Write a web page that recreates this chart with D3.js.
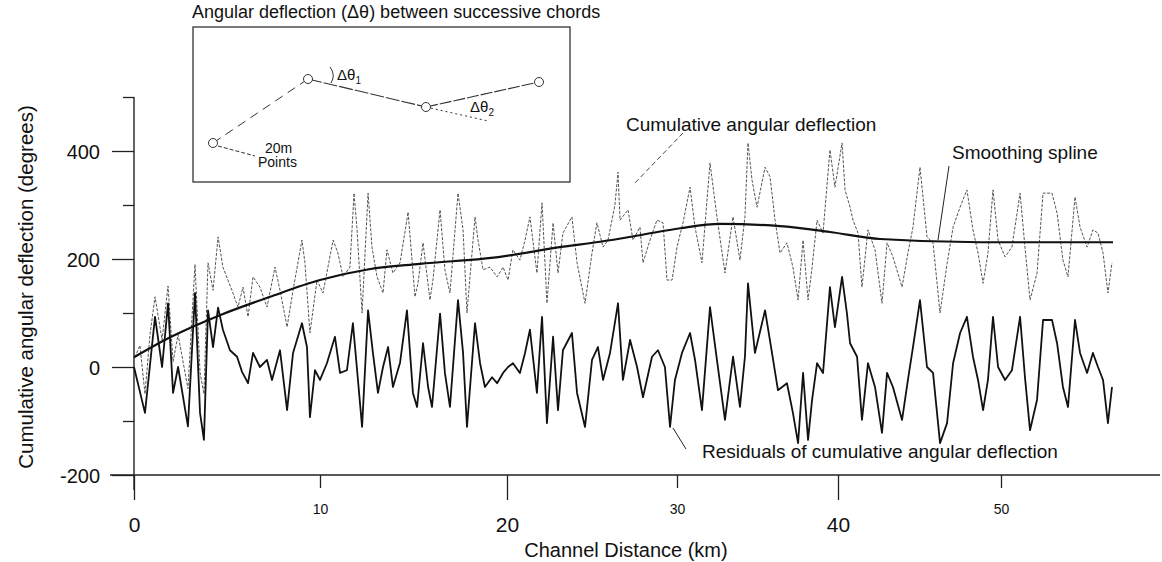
<!DOCTYPE html>
<html lang="en">
<head>
<meta charset="UTF-8">
<title>Cumulative angular deflection</title>
<script src="https://d3js.org/d3.v7.min.js"></script>
<style>
  body { margin: 0; background: #fff; }
  svg { display: block; font-family: "Liberation Sans", Arial, sans-serif; }
  .tick line { stroke: #222; stroke-width: 1.3px; }
</style>
</head>
<body>
<script>
// residuals of cumulative angular deflection (km, degrees)
const residualKm = [0, 0.59, 1.13, 1.51, 1.83, 2.10, 2.37, 2.90, 3.28, 3.55, 3.76, 3.98, 4.25, 4.52, 4.78, 5.16, 5.54, 5.81, 6.13, 6.40,
  6.77, 7.15, 7.42, 7.85, 8.23, 8.55, 9.03, 9.30, 9.46, 9.73, 10.0, 10.37, 10.80, 11.07, 11.44, 11.76, 12.03, 12.25, 12.57, 12.83,
  13.10, 13.37, 13.64, 13.90, 14.28, 14.65, 14.97, 15.19, 15.51, 15.78, 15.99, 16.42, 16.68, 16.95, 17.38, 17.65, 17.86, 18.29, 18.56, 18.82,
  19.20, 19.47, 19.79, 20.06, 20.35, 20.76, 21.06, 21.35, 21.76, 22.06, 22.35, 22.71, 23.00, 23.29, 23.82, 24.12, 24.59, 25.00, 25.35, 25.65,
  26.06, 26.53, 26.82, 27.24, 27.65, 28.00, 28.53, 28.88, 29.29, 29.59, 29.88, 30.31, 30.81, 31.12, 31.55, 32.05, 32.48, 32.98, 33.48, 33.91,
  34.22, 34.41, 34.84, 35.47, 35.90, 36.27, 36.83, 37.20, 37.52, 37.83, 38.14, 38.39, 38.70, 39.07, 39.50, 39.81, 40.25, 40.55, 40.74, 41.17,
  41.47, 41.84, 42.27, 42.70, 43.01, 43.37, 43.93, 44.29, 44.60, 45.03, 45.46, 45.83, 46.26, 46.69, 47.06, 47.49, 47.91, 48.28, 48.59, 48.90,
  49.20, 49.51, 49.82, 50.25, 50.67, 51.17, 51.47, 51.78, 52.21, 52.58, 53.13, 53.44, 53.80, 54.11, 54.54, 54.85, 55.28, 55.64, 55.95, 56.26,
  56.56, 56.81];
const residualDeg = [0, -85, 93, 0, 118, -48, 0, -110, 137, -85, -135, 105, 37, 110, 69, 31, 19, -9, -30, 26,
  0, 13, -24, 31, -80, 26, 81, 37, -93, -6, -24, 7, 56, -11, -6, 81, -24, -111, 105, 26,
  -48, 0, 37, -37, 8, 105, -48, -74, 44, -37, -74, 99, -11, -74, 124, 26, -111, 81, 7, -37,
  -19, -30, -11, 0, 7, -11, 26, 69, -48, 93, -104, 56, -80, 31, 63, -48, -111, 13, 37, -24,
  26, 118, -24, 50, 0, -56, 19, 31, 0, -111, -24, 26, 63, 13, -80, 111, 13, -98, 19, -74,
  19, 155, 26, 105, 26, -43, -30, -85, -141, -11, -135, -61, 7, -11, 148, 74, 167, 99, 44, 19,
  -98, 7, -37, -122, -11, -37, -98, -24, 37, 124, 0, -11, -141, -104, 7, 63, 93, 19, -24, -80,
  -24, 93, 0, -24, -6, 93, -19, -117, -61, 87, 87, 44, -37, -74, 87, 26, -11, 26, 0, -24,
  -104, -37];

// cumulative angular deflection (km, degrees)
const cumulativeKm = [0.05, 0.32, 0.59, 0.86, 1.13, 1.51, 1.83, 2.10, 2.37, 2.90, 3.28, 3.55, 3.76, 3.98, 4.25, 4.52, 4.78, 5.05, 5.32, 5.59,
  5.86, 6.13, 6.40, 6.77, 7.15, 7.58, 7.85, 8.23, 8.55, 9.03, 9.19, 9.46, 9.84, 10.16, 10.70, 10.96, 11.23, 11.60, 11.82, 11.98,
  12.25, 12.57, 12.78, 13.05, 13.37, 13.58, 13.90, 14.28, 14.71, 15.08, 15.24, 15.51, 15.88, 16.04, 16.42, 16.68, 16.95, 17.38, 17.65, 17.86,
  18.29, 18.45, 18.72, 19.09, 19.47, 19.79, 20.06, 20.35, 20.76, 21.06, 21.35, 21.76, 22.06, 22.35, 22.71, 23.00, 23.29, 23.82, 24.12, 24.59,
  25.00, 25.29, 25.65, 25.94, 26.35, 26.53, 26.65, 27.12, 27.41, 27.82, 28.00, 28.41, 28.82, 29.18, 29.41, 29.71, 30.00, 30.37, 30.81, 31.12,
  31.55, 32.05, 32.48, 32.98, 33.48, 33.91, 34.22, 34.41, 34.66, 34.97, 35.47, 35.78, 36.09, 36.40, 36.83, 37.20, 37.52, 37.83, 38.14, 38.39,
  38.70, 39.07, 39.50, 39.81, 40.25, 40.43, 40.74, 40.92, 41.23, 41.47, 41.84, 42.27, 42.70, 43.01, 43.37, 43.93, 44.29, 44.60, 45.03, 45.46,
  45.83, 46.26, 46.69, 47.06, 47.49, 47.91, 48.28, 48.59, 48.90, 49.20, 49.51, 49.82, 50.25, 50.67, 51.17, 51.47, 51.78, 52.21, 52.58, 53.13,
  53.44, 53.80, 54.11, 54.54, 54.85, 55.28, 55.64, 55.95, 56.26, 56.56, 56.81];
const cumulativeDeg = [18, 40, -50, 60, 130, 50, 150, 10, 60, -40, 190, -10, -50, 193, 142, 241, 185, 161, 137, 111,
  148, 93, 167, 148, 111, 185, 142, 74, 142, 235, 193, 63, 161, 137, 235, 211, 167, 185, 322, 254,
  100, 322, 222, 167, 137, 217, 174, 193, 287, 130, 155, 230, 124, 161, 291, 180, 137, 322, 254, 100,
  278, 235, 180, 185, 167, 185, 161, 217, 198, 235, 278, 174, 304, 118, 267, 174, 248, 278, 193, 118,
  211, 267, 222, 235, 300, 361, 272, 291, 235, 259, 193, 235, 272, 267, 161, 161, 222, 267, 333, 259,
  193, 378, 278, 174, 278, 198, 278, 415, 346, 296, 370, 352, 272, 211, 230, 185, 124, 235, 124, 185,
  272, 248, 402, 333, 415, 328, 296, 272, 248, 148, 254, 217, 118, 230, 204, 148, 211, 259, 370, 241,
  230, 100, 191, 259, 296, 328, 254, 211, 155, 211, 328, 235, 204, 222, 322, 222, 124, 174, 322, 322,
  285, 198, 167, 315, 259, 222, 254, 248, 211, 137, 193];

// smoothing spline (km, degrees)
const splineKm = [0, 1.94, 4.62, 7.31, 10.0, 12.62, 15.35, 19.63, 23.1, 25.47, 27.8, 30.2, 32.67, 36.40, 39.50, 42.58, 48.71, 56.87];
const splineDeg = [18, 55, 96, 130, 161, 181, 191, 204, 222, 232, 244, 257, 265, 261, 250, 237, 231, 231];

const yMajorTicks = [-200, 0, 200, 400];
const yMinorTicks = [-100, 100, 300, 500];
const xMajorTicks = [0, 20, 40];
const xMinorTicks = [10, 30, 50];

const width = 1162, height = 562;
const font = '"Liberation Sans", Arial, sans-serif';

const svg = d3.select("body").append("svg")
  .attr("width", width)
  .attr("height", height);

svg.append("rect").attr("width", width).attr("height", height).attr("fill", "#fff");

// the scanned axis is slightly uneven, so map each labelled tick to where it sits
const x = d3.scaleLinear()
  .domain([0, 10, 20, 30, 40, 50])
  .range([134, 320, 507, 677, 838, 1001]);
const y = d3.scaleLinear().domain([-200, 500]).range([475, 97]);

// axis lines
svg.append("line")
  .attr("x1", x(0)).attr("x2", x(0))
  .attr("y1", y(500)).attr("y2", 490)
  .attr("stroke", "#222").attr("stroke-width", 1.4);
svg.append("line")
  .attr("x1", 110).attr("x2", 1160)
  .attr("y1", y(-200)).attr("y2", y(-200))
  .attr("stroke", "#222").attr("stroke-width", 1.4);

// y axis
const gy = svg.append("g").attr("transform", `translate(${x(0)},0)`);
gy.append("g").call(d3.axisLeft(y).tickValues(yMajorTicks).tickSize(22).tickPadding(12).tickFormat(d => String(d)));
gy.append("g").call(d3.axisLeft(y).tickValues(yMinorTicks).tickSize(11).tickFormat(""));
gy.selectAll(".domain").remove();
gy.selectAll("text")
  .attr("font-size", 20)
  .attr("font-family", font)
  .attr("fill", "#111")
  .attr("dy", "0.37em");

// x axis
const gx = svg.append("g").attr("transform", `translate(0,${y(-200)})`);
const gxMajor = gx.append("g").call(d3.axisBottom(x).tickValues(xMajorTicks).tickSize(25).tickFormat(d => String(d)));
const gxMinor = gx.append("g").call(d3.axisBottom(x).tickValues(xMinorTicks).tickSize(13).tickFormat(d => String(d)));
gx.selectAll(".domain").remove();
gxMajor.selectAll("text")
  .attr("y", 57).attr("dy", 0)
  .attr("font-size", 21).attr("font-family", font).attr("fill", "#111");
gxMinor.selectAll("text")
  .attr("y", 39).attr("dy", 0)
  .attr("font-size", 14).attr("font-family", font).attr("fill", "#111");

// axis titles
svg.append("text")
  .attr("transform", "translate(33,287) rotate(-90)")
  .attr("text-anchor", "middle")
  .attr("font-size", 20.5)
  .attr("fill", "#111")
  .text("Cumulative angular deflection (degrees)");

svg.append("text")
  .attr("x", 626).attr("y", 557)
  .attr("text-anchor", "middle")
  .attr("font-size", 20)
  .attr("fill", "#111")
  .text("Channel Distance (km)");

// series
const lineOf = (ks, vs, curve) => d3.line()
  .x((d, i) => x(ks[i]))
  .y(d => y(d))
  .curve(curve)(vs);

svg.append("path")
  .attr("d", lineOf(cumulativeKm, cumulativeDeg, d3.curveLinear))
  .attr("fill", "none")
  .attr("stroke", "#555")
  .attr("stroke-width", 1)
  .attr("stroke-dasharray", "3 1.5");

svg.append("path")
  .attr("d", lineOf(residualKm, residualDeg, d3.curveLinear))
  .attr("fill", "none")
  .attr("stroke", "#111")
  .attr("stroke-width", 1.8)
  .attr("stroke-linejoin", "round");

svg.append("path")
  .attr("d", lineOf(splineKm, splineDeg, d3.curveMonotoneX))
  .attr("fill", "none")
  .attr("stroke", "#111")
  .attr("stroke-width", 2.2);

// annotations
const notes = svg.append("g").attr("font-size", 19).attr("fill", "#111");
notes.append("text").attr("x", 626).attr("y", 131).text("Cumulative angular deflection");
notes.append("text").attr("x", 952).attr("y", 159).text("Smoothing spline");
notes.append("text").attr("x", 702).attr("y", 458).text("Residuals of cumulative angular deflection");

svg.append("line").attr("x1", 683).attr("y1", 133).attr("x2", 633).attr("y2", 185)
  .attr("stroke", "#333").attr("stroke-width", 0.9).attr("stroke-dasharray", "5 3");
svg.append("line").attr("x1", 949).attr("y1", 166).attr("x2", 938).attr("y2", 240)
  .attr("stroke", "#222").attr("stroke-width", 1);
svg.append("line").attr("x1", 673).attr("y1", 428).attr("x2", 686).attr("y2", 449)
  .attr("stroke", "#222").attr("stroke-width", 1);

// inset sketch
const inset = svg.append("g");
inset.append("text")
  .attr("x", 192).attr("y", 18)
  .attr("font-size", 18)
  .attr("fill", "#111")
  .text("Angular deflection (\u0394\u03b8) between successive chords");
inset.append("rect")
  .attr("x", 193).attr("y", 27).attr("width", 377).attr("height", 155)
  .attr("fill", "none").attr("stroke", "#333").attr("stroke-width", 1.3);

const pts = [[213, 143], [308, 79], [426, 107], [539, 82]];
const seg = (a, b, dash, w) => inset.append("line")
  .attr("x1", a[0]).attr("y1", a[1]).attr("x2", b[0]).attr("y2", b[1])
  .attr("stroke", "#333").attr("stroke-width", w).attr("stroke-dasharray", dash);
seg(pts[0], pts[1], "9 6", 1);
seg(pts[1], pts[2], "14 2", 1.1);
seg(pts[2], pts[3], "12 2", 1.1);
seg(pts[2], [488, 121], "2 3", 1);
seg([218, 146], [255, 156], "4 2", 1);

inset.selectAll("circle").data(pts).join("circle")
  .attr("cx", d => d[0]).attr("cy", d => d[1]).attr("r", 4.5)
  .attr("fill", "#fff").attr("stroke", "#333").attr("stroke-width", 1);

inset.append("path")
  .attr("d", "M330,67 Q336,75 331,83")
  .attr("fill", "none").attr("stroke", "#333").attr("stroke-width", 1);

const dTheta = (xp, yp, sub) => {
  const t = inset.append("text").attr("x", xp).attr("y", yp).attr("font-size", 15).attr("fill", "#111");
  t.append("tspan").text("\u0394\u03b8");
  t.append("tspan").attr("font-size", 10).attr("dy", 4).text(sub);
};
dTheta(337, 80, "1");
dTheta(470, 112, "2");

inset.append("text").attr("x", 265).attr("y", 153).attr("font-size", 14).attr("fill", "#111").text("20m");
inset.append("text").attr("x", 258).attr("y", 167).attr("font-size", 14).attr("fill", "#111").text("Points");
</script>
</body>
</html>
